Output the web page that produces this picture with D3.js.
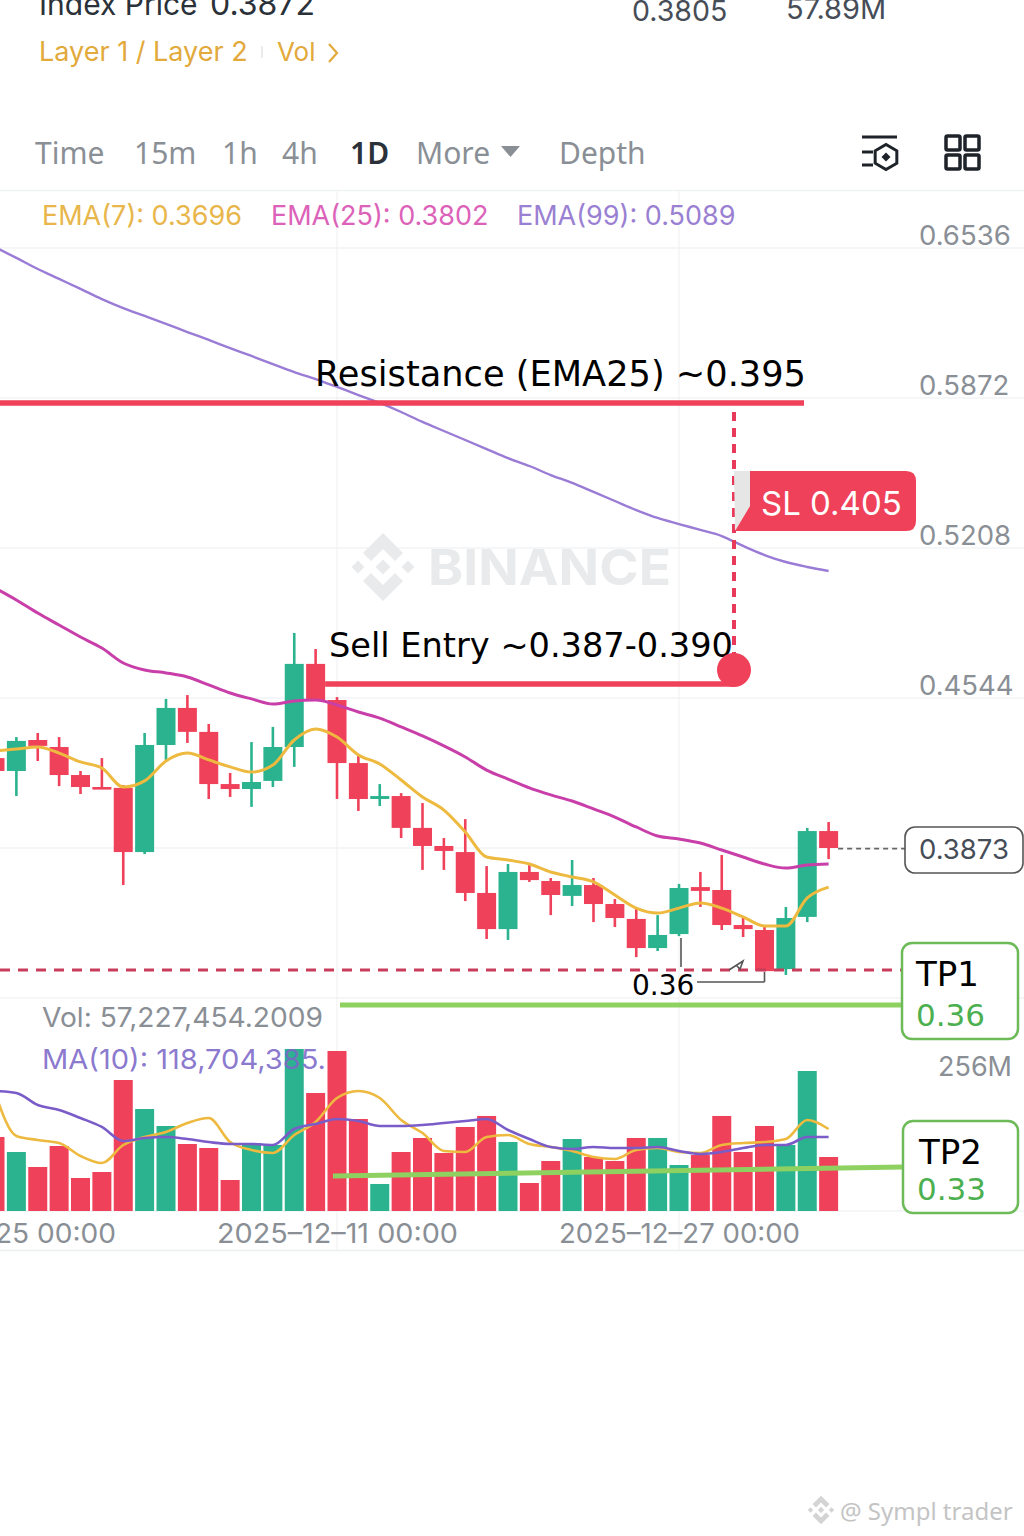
<!DOCTYPE html>
<html>
<head>
<meta charset="utf-8">
<style>
  html, body { margin: 0; padding: 0; background: #fff; }
  svg { display: block; }
  text { font-family: Inter, sans-serif; }
  .note { font-family: "DejaVu Sans", sans-serif; }
  .tab { font-family: "Noto Sans", sans-serif; }
</style>
<script src="https://cdn.jsdelivr.net/npm/d3@7"></script>
</head>
<body>
<svg width="1024" height="1536"></svg>
<script>
var dates = ['2025-11-25', '2025-11-26', '2025-11-27', '2025-11-28', '2025-11-29', '2025-11-30',
    '2025-12-01', '2025-12-02', '2025-12-03', '2025-12-04', '2025-12-05', '2025-12-06', '2025-12-07',
    '2025-12-08', '2025-12-09', '2025-12-10', '2025-12-11', '2025-12-12', '2025-12-13', '2025-12-14',
    '2025-12-15', '2025-12-16', '2025-12-17', '2025-12-18', '2025-12-19', '2025-12-20', '2025-12-21',
    '2025-12-22', '2025-12-23', '2025-12-24', '2025-12-25', '2025-12-26', '2025-12-27', '2025-12-28',
    '2025-12-29', '2025-12-30', '2025-12-31', '2026-01-01', '2026-01-02', '2026-01-03'];

var open = [.4278, .4221, .4358, .4327, .4203, .4150, .4146, .3862, .4336, .4500, .4394, .4163, .4141,
    .4177, .4327, .4695, .4535, .4256, .4097, .4110, .3969, .3889, .3862, .3681, .3521, .3774, .3734,
    .3668, .3716, .3632, .3566, .3437, .3499, .3707, .3694, .3539, .3517, .3344, .3575, .3955];
var close = [.4221, .4354, .4332, .4203, .4150, .4141, .3862, .4336, .4500, .4394, .4163, .4141, .4172,
    .4327, .4695, .4535, .4256, .4097, .4110, .3969, .3889, .3867, .3681, .3521, .3774, .3738, .3672,
    .3716, .3632, .3570, .3437, .3495, .3703, .3690, .3539, .3521, .3335, .3570, .3955, .3880];
var high = [.4292, .4371, .4389, .4371, .4221, .4278, .4159, .4389, .4540, .4557, .4429, .4212, .4349,
    .4416, .4832, .4761, .4548, .4292, .4163, .4123, .4079, .3924, .4008, .3800, .3809, .3814, .3747,
    .3827, .3747, .3654, .3614, .3583, .3721, .3774, .3849, .3575, .3539, .3619, .3969, .3995];
var low = [.4221, .4110, .4265, .4154, .4119, .4141, .3716, .3853, .4270, .4345, .4097, .4106, .4062,
    .4150, .4239, .4535, .4097, .4044, .4066, .3924, .3783, .3783, .3645, .3477, .3473, .3730, .3583,
    .3623, .3552, .3530, .3397, .3424, .3490, .3619, .3517, .3486, .3335, .3318, .3552, .3831];

var ema7 = [.4309, .4318, .4327, .4300, .4261, .4234, .4150, .4177, .4265, .4300, .4270, .4239, .4216,
    .4247, .4358, .4407, .4371, .4292, .4252, .4181, .4106, .4048, .3951, .3840, .3827, .3809, .3774,
    .3752, .3730, .3672, .3614, .3592, .3614, .3637, .3614, .3575, .3535, .3535, .3659, .3707];
var ema25 = [.5031, .4978, .4920, .4867, .4814, .4765, .4699, .4668, .4655, .4637, .4602, .4566, .4540,
    .4517, .4531, .4535, .4513, .4482, .4455, .4416, .4376, .4332, .4283, .4225, .4185, .4146, .4115,
    .4088, .4053, .4017, .3973, .3933, .3920, .3902, .3871, .3840, .3809, .3791, .3805, .3809];
var ema99 = [.6540, .6492, .6443, .6399, .6355, .6310, .6270, .6235, .6200, .6164, .6129, .6093, .6058,
    .6022, .5987, .5956, .5921, .5885, .5850, .5810, .5766, .5726, .5686, .5646, .5606, .5571, .5531,
    .5496, .5456, .5416, .5376, .5341, .5314, .5288, .5261, .5217, .5177, .5146, .5124, .5106];

// volume in millions
var volume = [144.6, 115.3, 86.0, 127.0, 64.5, 76.2, 256.0, 199.3, 166.1, 130.9, 123.1, 60.6, 132.9,
    129.0, 316.6, 230.6, 312.7, 179.8, 52.8, 115.3, 142.7, 113.3, 164.2, 185.7, 134.8, 54.7, 97.7,
    140.7, 105.5, 97.7, 142.7, 142.7, 89.9, 109.4, 185.7, 115.3, 166.1, 129.0, 273.6, 105.5];
var volMa10 = [234.5, 230.6, 207.2, 197.4, 181.7, 164.2, 136.8, 142.7, 144.6, 140.7, 134.8, 130.9, 130.9,
    129.0, 160.2, 170.0, 179.8, 175.9, 166.1, 166.1, 168.1, 172.0, 175.9, 179.8, 158.3, 140.7, 125.1,
    121.2, 125.1, 123.1, 123.1, 125.1, 117.3, 111.4, 115.3, 123.1, 129.0, 129.0, 144.6, 144.6];
var volMa5 = [230.6, 146.6, 138.8, 132.9, 107.5, 93.8, 129.0, 144.6, 154.4, 172.0, 181.7, 134.8, 119.2,
    113.3, 148.5, 173.9, 220.8, 234.5, 220.8, 177.8, 152.4, 117.3, 115.3, 144.6, 148.5, 130.9, 125.1,
    117.3, 105.5, 101.6, 119.2, 123.1, 115.3, 113.3, 129.0, 132.9, 134.8, 140.7, 177.8, 160.2];

var gridLevels = [0.6536, 0.5872, 0.5208, 0.4544, 0.3880, 0.3216];
// the two lower labels sit behind the price pill and the TP1 box in the picture
var priceTicks = [0.6536, 0.5872, 0.5208, 0.4544];
var dateTicks = ['2025-11-25', '2025-12-11', '2025-12-27'];
var tabs = ['Time', '15m', '1h', '4h', '1D', 'More', 'Depth'];

var lastPrice = 0.3873;
var resistanceLevel = 0.5850;
var entryLevel = 0.4606;
var entryDot = 0.4668;
var dashedLevel = 0.3340;
var tp1Level = 0.3185;
var tp2Line = [68.4, 86.0];

var RED = '#ef4159';
var GREEN = '#2ab38e';
var LIME = '#8fd160';
var GRID = '#eceef0';
var GRAY = '#8a8f96';

var svg = d3.select('svg');
var parse = d3.utcParse('%Y-%m-%d');

var x = d3.scaleUtc()
    .domain([parse('2025-12-11'), parse('2025-12-27')])
    .range([337, 679]);
var y = d3.scaleLinear()
    .domain([0.6536, 0.3216])
    .range([248, 998]);
var yVol = d3.scaleLinear()
    .domain([0, 256])
    .range([1211, 1080]);

var candles = dates.map((d, i) => ({
    date: parse(d), open: open[i], close: close[i], high: high[i], low: low[i], vol: volume[i]
}));
var candleColor = d => d.close >= d.open ? GREEN : RED;
var barWidth = 19;

function label(txt, px, py, size, fill, weight, anchor) {
    return svg.append('text')
        .attr('x', px).attr('y', py)
        .attr('font-size', size)
        .attr('fill', fill)
        .attr('font-weight', weight || 400)
        .attr('text-anchor', anchor || 'start')
        .text(txt);
}

function note(txt, px, py, size, fill, weight) {
    return label(txt, px, py, size, fill, weight).attr('class', 'note');
}

function fit(sel, w) {
    return sel.attr('textLength', w).attr('lengthAdjust', 'spacingAndGlyphs');
}

function rule(x1, y1, x2, y2, color, w, dash) {
    return svg.append('line')
        .attr('x1', x1).attr('y1', y1).attr('x2', x2).attr('y2', y2)
        .attr('stroke', color).attr('stroke-width', w)
        .attr('stroke-dasharray', dash || null);
}

function logo(cx, cy, s, color) {
    var g = svg.append('g')
        .attr('transform', `translate(${cx},${cy}) scale(${s})`)
        .attr('fill', color);
    g.append('path').attr('d', 'M0,-34 L20,-14 L12,-6 L0,-18 L-12,-6 L-20,-14 Z');
    g.append('path').attr('d', 'M0,34 L20,14 L12,6 L0,18 L-12,6 L-20,14 Z');
    [-25, 0, 25].forEach(d => {
        var r = d === 0 ? 7.5 : 6.5;
        g.append('path').attr('d', `M${d},${-r} L${d + r},0 L${d},${r} L${d - r},0 Z`);
    });
}

// header ************************************************************
label('Index Price', 39, 15, 30, '#2b3139');
label('0.3872', 210, 15, 32, '#2b3139');
label('0.3805', 632, 21, 28.5, '#474d57');
label('57.89M', 786, 19, 29, '#474d57');
label('Layer 1 / Layer 2', 39, 61, 27, '#e2a93b');
rule(262, 46, 262, 58, '#e4e4e4', 1.5);
label('Vol', 277, 61, 26, '#e2a93b');
svg.append('path')
    .attr('d', 'M329,44 L337,53 L329,62')
    .attr('fill', 'none').attr('stroke', '#e2a93b').attr('stroke-width', 2.2);

var tabX = [35, 134, 222, 282, 350, 416, 559];
tabs.forEach((t, i) => {
    var active = t === '1D';
    label(t, tabX[i], 164, 30, active ? '#2b3139' : GRAY, active ? 600 : 400).attr('class', 'tab');
});
svg.append('path').attr('d', 'M501,146 L520,146 L510.5,157 Z').attr('fill', GRAY);

// settings icon
[[862, 897, 137], [862, 873, 152], [862, 873, 165]].forEach(d => rule(d[0], d[2], d[1], d[2], '#1e2329', 3));
var hex = d3.range(6).map(i => {
    var a = Math.PI / 3 * i + Math.PI / 6;
    return [886 + 12.5 * Math.cos(a), 157 + 12.5 * Math.sin(a)].join(',');
}).join(' ');
svg.append('polygon').attr('points', hex).attr('fill', 'none').attr('stroke', '#1e2329').attr('stroke-width', 3);
svg.append('path').attr('d', 'M886,152.5 L890.5,157 L886,161.5 L881.5,157 Z').attr('fill', '#1e2329');

// grid icon
[[946, 136], [965, 136], [946, 155], [965, 155]].forEach(d => {
    svg.append('rect')
        .attr('x', d[0]).attr('y', d[1])
        .attr('width', 14).attr('height', 14).attr('rx', 1.5)
        .attr('fill', 'none').attr('stroke', '#1e2329').attr('stroke-width', 3.5);
});

rule(0, 190.5, 1024, 190.5, '#f0f1f2', 1.5);
rule(0, 1250.5, 1024, 1250.5, '#eceef0', 1.5);

// grid **************************************************************
svg.append('g').selectAll('line')
    .data(gridLevels)
    .enter().append('line')
    .attr('x1', 0).attr('x2', 1024)
    .attr('y1', d => y(d)).attr('y2', d => y(d))
    .attr('stroke', GRID).attr('stroke-width', 1.2);

svg.append('g').selectAll('line')
    .data(dateTicks.slice(1))
    .enter().append('line')
    .attr('x1', d => x(parse(d))).attr('x2', d => x(parse(d)))
    .attr('y1', 190).attr('y2', 1250)
    .attr('stroke', '#f1f2f3').attr('stroke-width', 1.2);

rule(0, yVol(0), 1024, yVol(0), GRID, 1.2);

// watermark
logo(383, 567, 1, '#e9eaeb');
fit(label('BINANCE', 428, 585, 50, '#e9eaeb', 700), 243);

// legends
label('EMA(7): 0.3696', 42, 225, 27, '#e8b64a');
label('EMA(25): 0.3802', 271, 225, 27, '#dc62b9');
label('EMA(99): 0.5089', 517, 225, 27, '#9a80d2');

// axes **************************************************************
var yAxis = d3.axisRight(y).tickValues(priceTicks).tickSize(0).tickFormat(d3.format('.4f'));
var yAxisG = svg.append('g').attr('transform', 'translate(919,0)').call(yAxis);
yAxisG.select('.domain').remove();
yAxisG.selectAll('text')
    .attr('x', 0).attr('dy', -4)
    .attr('font-size', 27.5).attr('fill', GRAY)
    .attr('font-family', 'Inter, sans-serif');

var xAxis = d3.axisBottom(x)
    .tickValues(dateTicks.map(parse))
    .tickSize(0)
    .tickFormat(d3.utcFormat('%Y\u2013%m\u2013%d %H:%M'));
var xAxisG = svg.append('g').attr('transform', 'translate(0,1224)').call(xAxis);
xAxisG.select('.domain').remove();
xAxisG.selectAll('text')
    .attr('y', 0).attr('dy', 19)
    .attr('font-size', 27).attr('fill', GRAY)
    .attr('font-family', 'Inter, sans-serif')
    .attr('textLength', 241).attr('lengthAdjust', 'spacingAndGlyphs');

label('256M', 938, 1076, 27, GRAY);

// candles ***********************************************************
var candle = svg.append('g').selectAll('g')
    .data(candles)
    .enter().append('g');

candle.append('line')
    .attr('x1', d => x(d.date)).attr('x2', d => x(d.date))
    .attr('y1', d => y(d.high)).attr('y2', d => y(d.low))
    .attr('stroke', candleColor).attr('stroke-width', 2.6);

candle.append('rect')
    .attr('x', d => x(d.date) - barWidth / 2)
    .attr('width', barWidth)
    .attr('y', d => y(Math.max(d.open, d.close)))
    .attr('height', d => Math.max(y(Math.min(d.open, d.close)) - y(Math.max(d.open, d.close)), 2.6))
    .attr('fill', candleColor);

function drawLine(values, scale, color, w) {
    var line = d3.line()
        .x((d, i) => x(parse(dates[i])))
        .y(d => scale(d))
        .curve(d3.curveMonotoneX);
    svg.append('path')
        .attr('d', line(values))
        .attr('fill', 'none')
        .attr('stroke', color)
        .attr('stroke-width', w);
}

drawLine(ema99, y, '#9a7bd6', 2.4);
drawLine(ema25, y, '#c93fa9', 3);
drawLine(ema7, y, '#eeb93f', 3);

// volume ************************************************************
svg.append('g').selectAll('rect')
    .data(candles)
    .enter().append('rect')
    .attr('x', d => x(d.date) - barWidth / 2)
    .attr('width', barWidth)
    .attr('y', d => yVol(d.vol))
    .attr('height', d => yVol(0) - yVol(d.vol))
    .attr('fill', candleColor);

drawLine(volMa5, yVol, '#eeb93f', 2.6);
drawLine(volMa10, yVol, '#7a5cc9', 2.6);

fit(label('Vol: 57,227,454.2009', 42, 1027, 27, GRAY), 281);
fit(label('MA(10): 118,704,385.', 42, 1069, 27, '#7b68c8'), 284).attr('fill-opacity', 0.9);

// last price ********************************************************
var lastX = x(parse(dates[dates.length - 1])) + barWidth / 2;
rule(lastX, y(lastPrice) - 1, 905, y(lastPrice) - 1, '#666', 1.6, '5 4');
svg.append('rect')
    .attr('x', 905).attr('y', 827).attr('width', 118).attr('height', 46).attr('rx', 10)
    .attr('fill', '#fff').attr('stroke', '#555').attr('stroke-width', 1.6);
label(d3.format('.4f')(lastPrice), 919, 859, 27.5, '#474d57');

// annotations *******************************************************
rule(0, y(resistanceLevel), 804, y(resistanceLevel), RED, 5.5);
fit(note('Resistance (EMA25) ~0.395', 315, 386, 35, '#000'), 491);

rule(734, 412, 734, 656, '#e8395a', 4, '9 7');

var sl = svg.append('g');
sl.append('path')
    .attr('d', 'M734,471 L750,471 L750,506 L735,531 Z')
    .attr('fill', '#e6e6e6');
sl.append('path')
    .attr('d', 'M750,471 L906,471 Q916,471 916,481 L916,521 Q916,531 906,531 L735,531 L750,506 Z')
    .attr('fill', RED);
label('SL 0.405', 761, 515, 33, '#fff');

fit(note('Sell Entry ~0.387-0.390', 329, 657, 34, '#000'), 404);
rule(x(parse('2025-12-10')) + barWidth / 2, y(entryLevel), 734, y(entryLevel), RED, 5.5);
svg.append('circle').attr('cx', 734).attr('cy', y(entryDot)).attr('r', 17).attr('fill', RED);

rule(0, y(dashedLevel), 902, y(dashedLevel), '#c93d5c', 3.2, '10 8');

// hand drawn marks next to the low
rule(x(parse('2025-12-27')) + 2, 938, x(parse('2025-12-27')) + 2, y(dashedLevel) - 3, '#555', 1.6);
rule(x(parse('2025-12-31')), y(dashedLevel) + 2, x(parse('2025-12-31')), 982, '#555', 1.6);
rule(697, 982, x(parse('2025-12-31')), 982, '#555', 1.6);
svg.append('path')
    .attr('d', 'M729,970 L743,961 L740,969 L736,965')
    .attr('fill', 'none').attr('stroke', '#555').attr('stroke-width', 1.6);
note('0.36', 632, 995, 28, '#000');

rule(340, y(tp1Level), 902, y(tp1Level), LIME, 5);
rule(333, yVol(tp2Line[0]), 903, yVol(tp2Line[1]), LIME, 5);

[[902, 943, 116, 96], [903, 1121, 115, 92]].forEach(b => {
    svg.append('rect')
        .attr('x', b[0]).attr('y', b[1]).attr('width', b[2]).attr('height', b[3]).attr('rx', 10)
        .attr('fill', '#fff').attr('stroke', '#6dbb58').attr('stroke-width', 2.5);
});
note('TP1', 916, 986, 34, '#000');
note('0.36', 916, 1026, 31, '#4caf50');
note('TP2', 919, 1164, 34, '#000');
note('0.33', 917, 1200, 31, '#4caf50');

// footer
logo(821, 1510, 0.42, '#d4d4d4');
label('@ Sympl trader', 840, 1520, 24, '#c4c4c4').style('font-family', '"Noto Sans", sans-serif');
</script>
</body>
</html>
